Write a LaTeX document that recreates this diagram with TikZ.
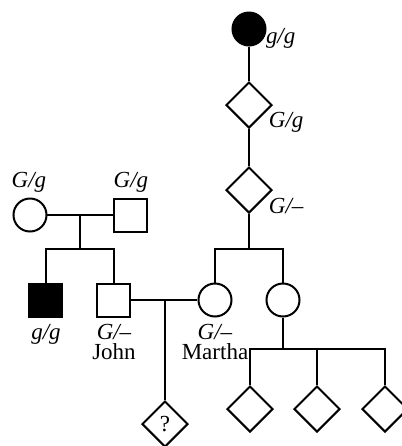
\documentclass[tikz,border=0pt]{standalone}
\usepackage{fontspec}
\setmainfont{Liberation Serif}
\usetikzlibrary{shapes.geometric}
\tikzstyle{every node}=[inner sep=0pt,font=\fontsize{11.5}{13}\selectfont]
\tikzstyle{female}=[circle,draw=black,line width=1pt,minimum size=16.5pt]
\tikzstyle{male}=[rectangle,draw=black,line width=1pt,minimum size=16.5pt]
\tikzstyle{unknown}=[diamond,draw=black,line width=1pt,minimum size=23pt]
\tikzstyle{affected}=[fill=black]
\tikzstyle{geno}=[font=\fontsize{11.5}{13}\selectfont\itshape,anchor=base]
\tikzstyle{person}=[align=center,anchor=north,font=\fontsize{11.5}{10}\selectfont]

\begin{document}
\begin{tikzpicture}[x=0.5pt,y=-0.5pt,line width=1pt]
\useasboundingbox (0,0) rectangle (402,446);
% maternal line
\node[female,affected] (gran) at (249,29) {};
\node[unknown] (anc1) at (249,105) {};
\node[unknown] (anc2) at (249,190) {};
\node[female] (martha) at (215,300) {};
\node[female] (sister) at (283,300) {};
\coordinate (sib2) at (249,249);
% John's family
\node[female] (mother) at (30,215) {};
\node[male] (father) at (131,215) {};
\coordinate (mar1) at (80,215);
\coordinate (sib1) at (80,249);
\node[male,affected] (brother) at (46,300) {};
\node[male] (john) at (114,300) {};
\coordinate (mar2) at (165,300);
\node[unknown] (child) at (165,424) {?};
% sister's children
\coordinate (sib3) at (283,349);
\node[unknown] (nephew1) at (250,409) {};
\node[unknown] (nephew2) at (317,409) {};
\node[unknown] (nephew3) at (385,409) {};
% connectors
\draw (gran) -- (anc1);
\draw (anc1) -- (anc2);
\draw (anc2) -- (sib2);
\draw (martha.north) |- (sib2) -| (sister.north);
\draw (mother) -- (father);
\draw (mar1) -- (sib1);
\draw (brother.north) |- (sib1) -| (john.north);
\draw (john) -- (martha);
\draw (mar2) -- (child);
\draw (sister) -- (sib3);
\draw (nephew1.north) |- (sib3) -| (nephew3.north);
\draw (nephew2.north) -- (nephew2.north |- sib3);
% genotypes and names
\node[geno,anchor=base west] (g1) at (265,43) {g/g};
\node[geno,anchor=base west] (g2) at (268,127) {G/g};
\node[geno,anchor=base west] (g3) at (268,213) {G/–};
\node[geno] (g4) at (29,187) {G/g};
\node[geno] (g5) at (131,187) {G/g};
\node[geno] (g6) at (46,339) {g/g};
\node[person] (n1) at (114,323) {{\itshape G/–}\\John};
\node[person] (n2) at (215,323) {{\itshape G/–}\\Martha};
\end{tikzpicture}
\end{document}
